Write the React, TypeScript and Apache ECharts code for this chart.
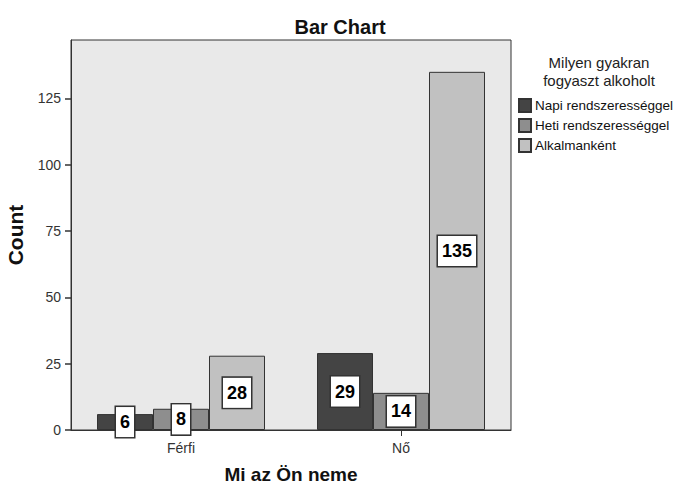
import React, { useEffect, useRef } from "react";
import * as echarts from "echarts";

const categories = ["Férfi", "Nő"];
const seriesNames = ["Napi rendszerességgel", "Heti rendszerességgel", "Alkalmanként"];
const napi = [6, 29];
const heti = [8, 14];
const alkalmankent = [28, 135];
const yTicks = [0, 25, 50, 75, 100, 125];
const colors = ["#444444", "#8e8e8e", "#c1c1c1"];

const FONT = "'Liberation Sans', Arial, sans-serif";

export default function App() {
  const ref = useRef<HTMLDivElement>(null);
  useEffect(() => {
    if (!ref.current) return;
    const chart = echarts.init(ref.current, undefined, { renderer: "svg" });
    const dataSets = [napi, heti, alkalmankent];
    chart.setOption({
      animation: false,
      textStyle: { fontFamily: FONT },
      title: [
        {
          text: "Bar Chart",
          left: 335,
          textAlign: "center",
          top: 12,
          textStyle: { fontSize: 20, fontWeight: "bold", color: "#111", fontFamily: FONT },
        },
        {
          text: "Milyen gyakran\nfogyaszt alkoholt",
          left: 594,
          textAlign: "center",
          top: 48,
          textStyle: { fontSize: 15, lineHeight: 18, fontWeight: "normal", color: "#222", fontFamily: FONT },
        },
      ],
      legend: {
        orient: "vertical",
        left: 513,
        top: 93,
        itemWidth: 12,
        itemHeight: 13,
        itemGap: 5,
        icon: "rect",
        data: seriesNames,
        textStyle: { fontSize: 13.5, color: "#111", fontFamily: FONT, padding: [0, 0, 0, -1] },
      },
      grid: {
        left: 71,
        right: 164,
        top: 40,
        bottom: 57,
        outerBoundsMode: "none",
        containLabel: false,
        show: true,
        backgroundColor: "#e9e9e9",
        borderColor: "#333",
        borderWidth: 1,
      },
      xAxis: {
        type: "category",
        data: categories,
        name: "Mi az Ön neme",
        nameLocation: "middle",
        nameGap: 35,
        nameTextStyle: { fontSize: 19, fontWeight: "bold", color: "#111", fontFamily: FONT },
        axisLine: { show: true, lineStyle: { color: "#333", width: 1 } },
        axisTick: { show: true, alignWithLabel: true, length: 6, lineStyle: { color: "#333" } },
        axisLabel: { fontSize: 14, color: "#333", margin: 11, fontFamily: FONT },
        splitLine: { show: false },
      },
      yAxis: {
        type: "value",
        min: 0,
        max: 147,
        interval: 25,
        name: "Count",
        nameLocation: "middle",
        nameGap: 45,
        nameTextStyle: { fontSize: 21, fontWeight: "bold", color: "#111", fontFamily: FONT },
        axisLine: { show: true, lineStyle: { color: "#333", width: 1 } },
        axisTick: { show: true, length: 6, customValues: yTicks, lineStyle: { color: "#333", width: 1.5 } },
        axisLabel: { fontSize: 14, color: "#333", margin: 10, customValues: yTicks, fontFamily: FONT },
        splitLine: { show: false },
      },
      series: seriesNames.map((name, i) => ({
        name,
        type: "bar",
        data: dataSets[i],
        barWidth: 56,
        barGap: "0%",
        itemStyle: { color: colors[i], borderColor: "#333", borderWidth: 1 },
        label: {
          show: true,
          position: "inside",
          fontSize: 18,
          fontWeight: "bold",
          color: "#000",
          fontFamily: FONT,
          backgroundColor: "#fff",
          borderColor: "#333",
          borderWidth: 1.5,
          padding: [5, 4, 5, 4],
          lineHeight: 20,
        },
      })),
    });
    return () => chart.dispose();
  }, []);
  return <div ref={ref} style={{ width: 675, height: 487, position: "absolute", left: 0, top: 0 }} />;
}
